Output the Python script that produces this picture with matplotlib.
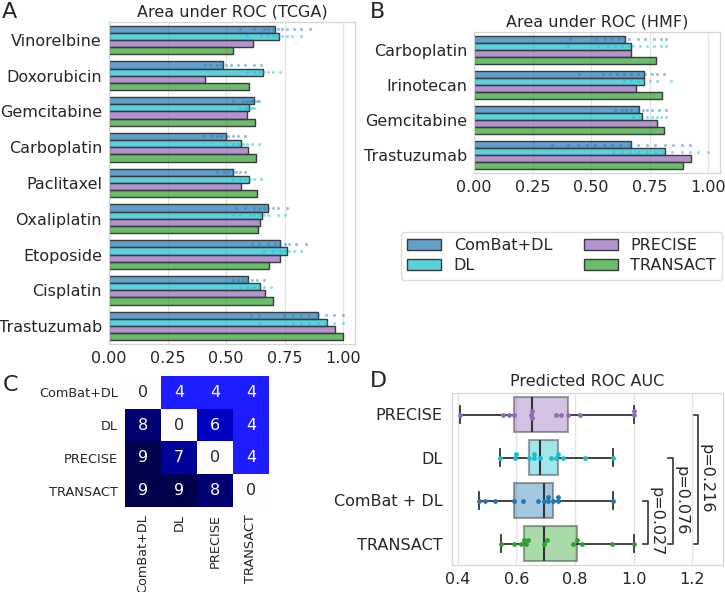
import numpy as np
import matplotlib
matplotlib.use('agg')
from matplotlib import pyplot as plt
from matplotlib.colors import ListedColormap, to_rgba
from matplotlib.patches import Patch

plt.rcParams['font.family'] = 'DejaVu Sans'
plt.rcParams['font.size'] = 11.5
plt.rcParams['text.color'] = '#262626'
plt.rcParams['xtick.color'] = '#262626'
plt.rcParams['ytick.color'] = '#262626'

methods = ['ComBat+DL', 'DL', 'PRECISE', 'TRANSACT']
method_colors = ['#1f77b4', '#17becf', '#9467bd', '#2ca02c']

# panel A: TCGA
tcga_drugs = ['Vinorelbine', 'Doxorubicin', 'Gemcitabine', 'Carboplatin', 'Paclitaxel',
              'Oxaliplatin', 'Etoposide', 'Cisplatin', 'Trastuzumab']
tcga_combat = [0.710, 0.487, 0.619, 0.500, 0.530, 0.679, 0.730, 0.594, 0.893]
tcga_dl = [0.724, 0.658, 0.598, 0.563, 0.598, 0.653, 0.759, 0.645, 0.930]
tcga_precise = [0.616, 0.408, 0.588, 0.594, 0.563, 0.645, 0.732, 0.666, 0.963]
tcga_transact = [0.528, 0.598, 0.622, 0.628, 0.632, 0.638, 0.683, 0.699, 1.000]

# individual runs (approximate)
tcga_combat_runs = [
    [0.56, 0.62, 0.66, 0.68, 0.70, 0.72, 0.74, 0.76, 0.79, 0.82, 0.86],
    [0.41, 0.43, 0.46, 0.48, 0.50, 0.52, 0.55, 0.58, 0.62, 0.65],
    [0.53, 0.57, 0.59, 0.60, 0.61, 0.62, 0.63, 0.64],
    [0.40, 0.44, 0.46, 0.48, 0.50, 0.51, 0.53, 0.55, 0.58],
    [0.46, 0.49, 0.51, 0.53, 0.54, 0.56, 0.58],
    [0.54, 0.58, 0.62, 0.64, 0.66, 0.68, 0.70, 0.72, 0.76],
    [0.61, 0.64, 0.68, 0.71, 0.73, 0.75, 0.77, 0.80, 0.84],
    [0.53, 0.55, 0.57, 0.59, 0.61, 0.63, 0.66],
    [0.607, 0.642, 0.749, 0.784, 0.820, 0.855, 0.891, 0.926, 0.962, 1.0],
]
tcga_dl_runs = [
    [0.59, 0.65, 0.68, 0.70, 0.72, 0.74, 0.76, 0.78, 0.82],
    [0.59, 0.62, 0.64, 0.66, 0.68, 0.70, 0.73],
    [0.56, 0.58, 0.59, 0.60, 0.61, 0.62],
    [0.50, 0.53, 0.55, 0.57, 0.59, 0.61, 0.64],
    [0.53, 0.56, 0.58, 0.60, 0.62, 0.65],
    [0.53, 0.56, 0.60, 0.62, 0.64, 0.66, 0.68, 0.72, 0.75],
    [0.66, 0.70, 0.73, 0.75, 0.77, 0.79, 0.82],
    [0.56, 0.59, 0.62, 0.64, 0.66, 0.69],
    [0.642, 0.784, 0.820, 0.855, 0.891, 0.926, 0.962, 1.0],
]

# panel B: HMF
hmf_drugs = ['Carboplatin', 'Irinotecan', 'Gemcitabine', 'Trastuzumab']
hmf_combat = [0.645, 0.727, 0.706, 0.668]
hmf_dl = [0.670, 0.727, 0.719, 0.814]
hmf_precise = [0.669, 0.690, 0.780, 0.926]
hmf_transact = [0.777, 0.803, 0.810, 0.891]

hmf_combat_runs = [
    [0.41, 0.52, 0.56, 0.59, 0.62, 0.64, 0.66, 0.70, 0.73, 0.77, 0.80, 0.82],
    [0.45, 0.55, 0.58, 0.61, 0.64, 0.67, 0.70, 0.73, 0.76, 0.78, 0.81],
    [0.60, 0.63, 0.65, 0.67, 0.70, 0.72, 0.74, 0.76, 0.79, 0.82],
    [0.332, 0.403, 0.446, 0.481, 0.517, 0.553, 0.588, 0.624, 0.666, 0.702, 0.737,
     0.773, 0.815, 0.851, 0.886, 0.922],
]
hmf_dl_runs = [
    [0.40, 0.53, 0.57, 0.60, 0.63, 0.66, 0.68, 0.71, 0.74, 0.77, 0.80, 0.82],
    [0.64, 0.67, 0.70, 0.72, 0.75, 0.78, 0.84],
    [0.68, 0.71, 0.74, 0.76, 0.78, 0.80, 0.82],
    [0.595, 0.631, 0.666, 0.702, 0.737, 0.773, 0.808, 0.844, 0.886, 0.922, 0.957, 1.0],
]

# panel C: pairwise wins
wins = [[0, 4, 4, 4],
        [8, 0, 6, 4],
        [9, 7, 0, 4],
        [9, 9, 8, 0]]

# panel D: predicted ROC AUC
box_labels = ['PRECISE', 'DL', 'ComBat + DL', 'TRANSACT']
box_colors = ['#9467bd', '#17becf', '#1f77b4', '#2ca02c']
pred_precise = [0.409, 0.555, 0.574, 0.592, 0.649, 0.653, 0.653, 0.735, 0.753, 0.775, 0.818, 1.0, 1.0]
pred_dl = [0.545, 0.597, 0.600, 0.642, 0.659, 0.662, 0.682, 0.719, 0.735, 0.744, 0.761, 0.833, 0.930]
pred_combat = [0.474, 0.494, 0.528, 0.593, 0.622, 0.674, 0.693, 0.710, 0.710, 0.727, 0.742, 0.742, 0.930]
pred_transact = [0.549, 0.594, 0.616, 0.625, 0.633, 0.640, 0.693, 0.705, 0.795, 0.807, 0.824, 0.926, 1.0]
p_pairs = [('ComBat + DL', 'TRANSACT', 'p=0.027'),
           ('DL', 'TRANSACT', 'p=0.076'),
           ('PRECISE', 'TRANSACT', 'p=0.216')]

W, H = 725, 592
fig = plt.figure(figsize=(W / 100, H / 100), dpi=100)


def px_axes(l, t, r, b):
    return fig.add_axes([l / W, 1 - b / H, (r - l) / W, (b - t) / H])


def style(ax):
    for s in ax.spines.values():
        s.set_color('#d5d5d5')
        s.set_linewidth(0.9)
    ax.set_axisbelow(True)
    ax.grid(axis='x', color='#e3e3e3', lw=0.9)
    ax.tick_params(length=0, pad=5)


def bar_panel(ax, drugs, series, runs, title):
    y = np.arange(len(drugs))
    offs = (np.arange(4) - 1.5) * 0.2
    for k, vals in enumerate(series):
        ax.barh(y + offs[k], vals, height=0.2, color=to_rgba(method_colors[k], 0.7),
                edgecolor='#3a3a3a', linewidth=1.0)
    for k, rr in enumerate(runs):
        for i, r in enumerate(rr):
            ax.scatter(r, np.full(len(r), y[i] + offs[k]), s=5, color=method_colors[k],
                       alpha=0.45, lw=0, zorder=3)
    ax.set_yticks(y, drugs)
    ax.set_ylim(len(drugs) - 0.5, -0.5)
    ax.set_xlim(0, 1.05)
    ax.set_xticks([0, 0.25, 0.5, 0.75, 1.0], ['0.00', '0.25', '0.50', '0.75', '1.00'])
    ax.set_title(title, fontsize=11.5, pad=4)
    style(ax)


axA = px_axes(109, 22, 355, 344)
bar_panel(axA, tcga_drugs, [tcga_combat, tcga_dl, tcga_precise, tcga_transact],
          [tcga_combat_runs, tcga_dl_runs], 'Area under ROC (TCGA)')

axB = px_axes(474, 32, 720, 173)
bar_panel(axB, hmf_drugs, [hmf_combat, hmf_dl, hmf_precise, hmf_transact],
          [hmf_combat_runs, hmf_dl_runs], 'Area under ROC (HMF)')

handles = [Patch(facecolor=to_rgba(c, 0.7), edgecolor='#3a3a3a', lw=1.0) for c in method_colors]
fig.legend(handles, methods, ncol=2, loc='upper left',
           bbox_to_anchor=(401 / W, 1 - 232 / H), fontsize=11.5, labelspacing=0.3,
           handlelength=2.1, frameon=True, edgecolor='#d5d5d5', borderaxespad=0)

# panel C heatmap
axC = px_axes(125, 376, 269, 507)
cmap = ListedColormap(plt.cm.seismic(np.linspace(0.5, 0.0, 256)))
wins_arr = np.array(wins)
axC.imshow(wins_arr, cmap=cmap, vmin=0, vmax=9, aspect='auto')
for i in range(4):
    for j in range(4):
        v = wins_arr[i, j]
        axC.text(j, i, str(v), ha='center', va='center', fontsize=11.5,
                 color='white' if v > 2 else '#262626')
axC.set_xticks(range(4), methods, rotation=90, fontsize=9.3)
axC.set_yticks(range(4), methods, fontsize=9.3)
axC.tick_params(length=0, pad=5)
for s in axC.spines.values():
    s.set_visible(False)

# panel D boxplot
axD = px_axes(452, 393, 723, 565)
pred = [pred_precise, pred_dl, pred_combat, pred_transact]
bp = axD.boxplot(pred, positions=range(4), vert=False, widths=0.8, whis=(0, 100),
                 patch_artist=True, showfliers=False,
                 medianprops=dict(color='#333333', lw=1.5),
                 whiskerprops=dict(color='#333333', lw=1.3),
                 capprops=dict(color='#333333', lw=1.3))
for patch, c in zip(bp['boxes'], box_colors):
    patch.set_facecolor(to_rgba(c, 0.4))
    patch.set_edgecolor(to_rgba('#333333', 0.45))
    patch.set_linewidth(1.5)


def swarm(vals, gap=0.014, step=0.09):
    placed, out = [], []
    for v in vals:
        for c in [0, -1, 1, -2, 2]:
            if all(abs(v - pv) >= gap or pc != c for pv, pc in placed):
                break
        placed.append((v, c))
        out.append(c * step)
    return np.array(out)


for i, (vals, c) in enumerate(zip(pred, box_colors)):
    vals = np.sort(vals)
    axD.scatter(vals, i + swarm(vals), s=12, color=c, lw=0, zorder=4)

axD.set_yticks(range(4), box_labels)
axD.set_ylim(3.5, -0.5)
axD.set_xlim(0.381, 1.305)
axD.set_xticks([0.4, 0.6, 0.8, 1.0, 1.2])
axD.set_title('Predicted ROC AUC', fontsize=11.5, pad=5)
style(axD)
axD.tick_params(axis='y', pad=7)

for n, (a, b, txt) in enumerate(p_pairs):
    ya, yb = box_labels.index(a), box_labels.index(b)
    x = 1.048 + n * 0.086
    axD.plot([x - 0.015, x, x, x - 0.015], [ya, ya, yb, yb], color='#333333', lw=1.2)
    axD.text(x + 0.027, (ya + yb) / 2, txt, rotation=270, ha='center', va='center',
             fontsize=11.5)

for lab, (x, y) in zip('ABCD', [(9, 12), (378, 12), (10, 385), (378, 381)]):
    fig.text(x / W, 1 - y / H, lab, fontsize=16, ha='center', va='center')

fig.savefig('out.png', dpi=100)
